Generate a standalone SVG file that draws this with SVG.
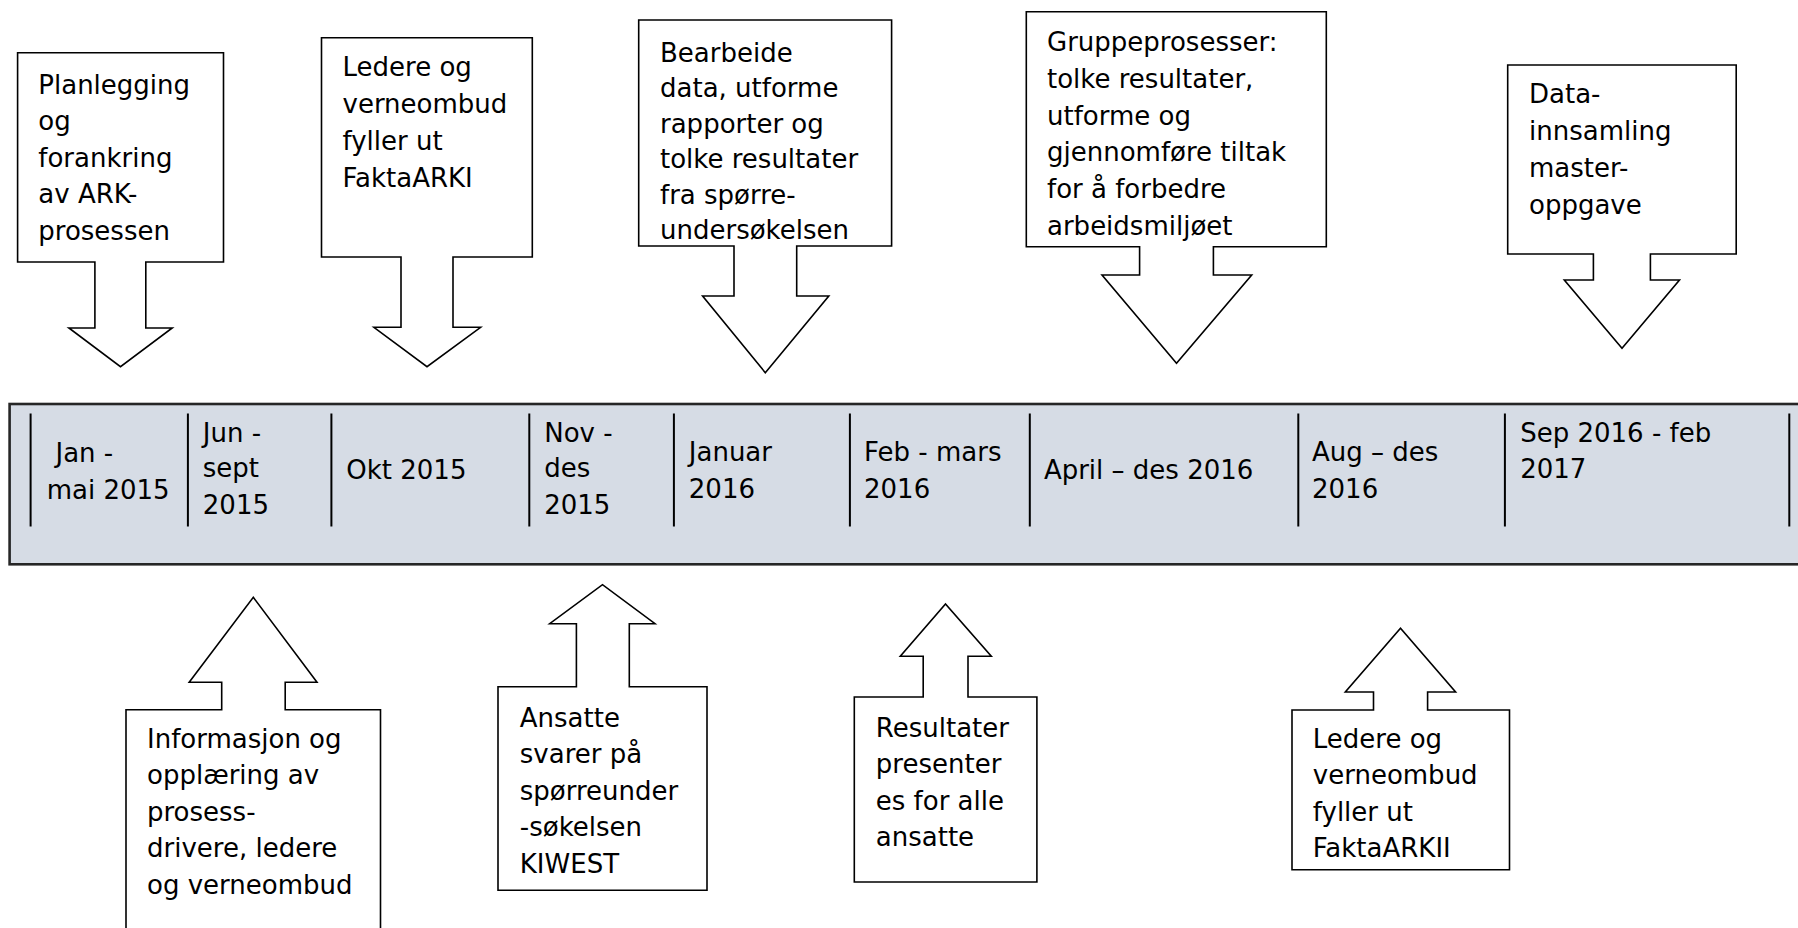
<svg xmlns="http://www.w3.org/2000/svg" width="1798" height="928" viewBox="0 0 1798 928">
  <style>
    .callout { fill: #ffffff; stroke: #000000; stroke-width: 1.6; stroke-linejoin: miter; }
    .lbl { font-family: "DejaVu Sans", Verdana, sans-serif; font-size: 26px; fill: #000000; }
    .bar { fill: #d6dce5; stroke: #262626; stroke-width: 2.6; }
    .sep { stroke: #000000; stroke-width: 2; }
  </style>

  <!-- timeline bar with period separators -->
  <g id="timeline">
    <rect class="bar" x="9.6" y="404" width="1810" height="160.3"/>
    <g id="separators">
      <line class="sep" x1="30.6" y1="413.5" x2="30.6" y2="526.5"/>
      <line class="sep" x1="187.9" y1="413.5" x2="187.9" y2="526.5"/>
      <line class="sep" x1="331.4" y1="413.5" x2="331.4" y2="526.5"/>
      <line class="sep" x1="529.3" y1="413.5" x2="529.3" y2="526.5"/>
      <line class="sep" x1="673.9" y1="413.5" x2="673.9" y2="526.5"/>
      <line class="sep" x1="849.9" y1="413.5" x2="849.9" y2="526.5"/>
      <line class="sep" x1="1029.8" y1="413.5" x2="1029.8" y2="526.5"/>
      <line class="sep" x1="1298.3" y1="413.5" x2="1298.3" y2="526.5"/>
      <line class="sep" x1="1504.9" y1="413.5" x2="1504.9" y2="526.5"/>
      <line class="sep" x1="1789.3" y1="413.5" x2="1789.3" y2="526.5"/>
    </g>
    <g id="periods" class="lbl">
      <text x="55.5" y="462">Jan -</text>
      <text x="46.7" y="498.5">mai 2015</text>
      <text x="202.8" y="441.7">Jun -</text>
      <text x="202.8" y="477">sept</text>
      <text x="202.8" y="514">2015</text>
      <text x="346.3" y="479.3">Okt 2015</text>
      <text x="544.2" y="441.7">Nov -</text>
      <text x="544.2" y="477">des</text>
      <text x="544.2" y="514">2015</text>
      <text x="688.8" y="461">Januar</text>
      <text x="688.8" y="497.5">2016</text>
      <text x="864" y="461">Feb - mars</text>
      <text x="864" y="497.5">2016</text>
      <text x="1043.9" y="479.3">April – des 2016</text>
      <text x="1312" y="461">Aug – des</text>
      <text x="1312" y="497.5">2016</text>
      <text x="1520.2" y="441.7">Sep 2016 - feb</text>
      <text x="1520.2" y="478">2017</text>
    </g>
  </g>

  <!-- callouts pointing down onto the timeline -->
  <g id="planlegging">
    <path class="callout" d="M17.6 52.7 H223.5 V262 H145.8 V328 H172.2 L120.5 366.7 L68.9 328 H94.9 V262 H17.6 Z"/>
    <text class="lbl" x="38.3" y="93.5">Planlegging</text>
    <text class="lbl" x="38.3" y="130">og</text>
    <text class="lbl" x="38.3" y="166.5">forankring</text>
    <text class="lbl" x="38.3" y="203">av ARK-</text>
    <text class="lbl" x="38.3" y="240">prosessen</text>
  </g>

  <g id="faktaark1">
    <path class="callout" d="M321.5 37.7 H532.3 V257 H453 V327.3 H480.6 L427 366.7 L373.9 327.3 H401 V257 H321.5 Z"/>
    <text class="lbl" x="342.5" y="76">Ledere og</text>
    <text class="lbl" x="342.5" y="113">verneombud</text>
    <text class="lbl" x="342.5" y="150">fyller ut</text>
    <text class="lbl" x="342.5" y="187">FaktaARKI</text>
  </g>

  <g id="bearbeide">
    <path class="callout" d="M638.7 20 H891.6 V246 H796.7 V296 H828.8 L765.3 372.7 L702.6 296 H734 V246 H638.7 Z"/>
    <text class="lbl" x="660" y="61.5">Bearbeide</text>
    <text class="lbl" x="660" y="97">data, utforme</text>
    <text class="lbl" x="660" y="132.5">rapporter og</text>
    <text class="lbl" x="660" y="168">tolke resultater</text>
    <text class="lbl" x="660" y="203.5">fra spørre-</text>
    <text class="lbl" x="660" y="239">undersøkelsen</text>
  </g>

  <g id="gruppeprosesser">
    <path class="callout" d="M1026.3 11.7 H1326.3 V246.7 H1213.4 V275 H1251.7 L1176.5 363.3 L1102 275 H1139.6 V246.7 H1026.3 Z"/>
    <text class="lbl" x="1047" y="51">Gruppeprosesser:</text>
    <text class="lbl" x="1047" y="87.8">tolke resultater,</text>
    <text class="lbl" x="1047" y="124.6">utforme og</text>
    <text class="lbl" x="1047" y="161.4">gjennomføre tiltak</text>
    <text class="lbl" x="1047" y="198.2">for å forbedre</text>
    <text class="lbl" x="1047" y="235">arbeidsmiljøet</text>
  </g>

  <g id="datainnsamling">
    <path class="callout" d="M1507.7 65 H1736.2 V254 H1650.4 V280 H1679.5 L1622 348.3 L1564.3 280 H1593.4 V254 H1507.7 Z"/>
    <text class="lbl" x="1529" y="102.7">Data-</text>
    <text class="lbl" x="1529" y="139.7">innsamling</text>
    <text class="lbl" x="1529" y="176.7">master-</text>
    <text class="lbl" x="1529" y="213.7">oppgave</text>
  </g>

  <!-- callouts pointing up at the timeline -->
  <g id="informasjon">
    <path class="callout" d="M126 709.7 H221.7 V682.3 H189.2 L253.3 597.3 L317 682.3 H285.2 V709.7 H380.5 V940 H126 Z"/>
    <text class="lbl" x="147" y="747.5">Informasjon og</text>
    <text class="lbl" x="147" y="784">opplæring av</text>
    <text class="lbl" x="147" y="820.5">prosess-</text>
    <text class="lbl" x="147" y="857">drivere, ledere</text>
    <text class="lbl" x="147" y="893.5">og verneombud</text>
  </g>

  <g id="kiwest">
    <path class="callout" d="M498 686.7 H576.4 V623.7 H549.7 L602.5 584.7 L655 623.7 H629.3 V686.7 H707 V890.3 H498 Z"/>
    <text class="lbl" x="519.8" y="726.5">Ansatte</text>
    <text class="lbl" x="519.8" y="763">svarer på</text>
    <text class="lbl" x="519.8" y="799.5">spørreunder</text>
    <text class="lbl" x="519.8" y="836">-søkelsen</text>
    <text class="lbl" x="519.8" y="872.5">KIWEST</text>
  </g>

  <g id="resultater">
    <path class="callout" d="M854.3 697 H923.2 V656.3 H900.3 L945.5 604 L991.3 656.3 H968 V697 H1036.9 V882 H854.3 Z"/>
    <text class="lbl" x="875.8" y="736.5">Resultater</text>
    <text class="lbl" x="875.8" y="773">presenter</text>
    <text class="lbl" x="875.8" y="809.5">es for alle</text>
    <text class="lbl" x="875.8" y="846">ansatte</text>
  </g>

  <g id="faktaark2">
    <path class="callout" d="M1292 710 H1373.5 V692 H1345.3 L1400.5 628.3 L1455.6 692 H1427.6 V710 H1509.5 V869.7 H1292 Z"/>
    <text class="lbl" x="1312.8" y="747.5">Ledere og</text>
    <text class="lbl" x="1312.8" y="784">verneombud</text>
    <text class="lbl" x="1312.8" y="820.5">fyller ut</text>
    <text class="lbl" x="1312.8" y="857">FaktaARKII</text>
  </g>
</svg>
